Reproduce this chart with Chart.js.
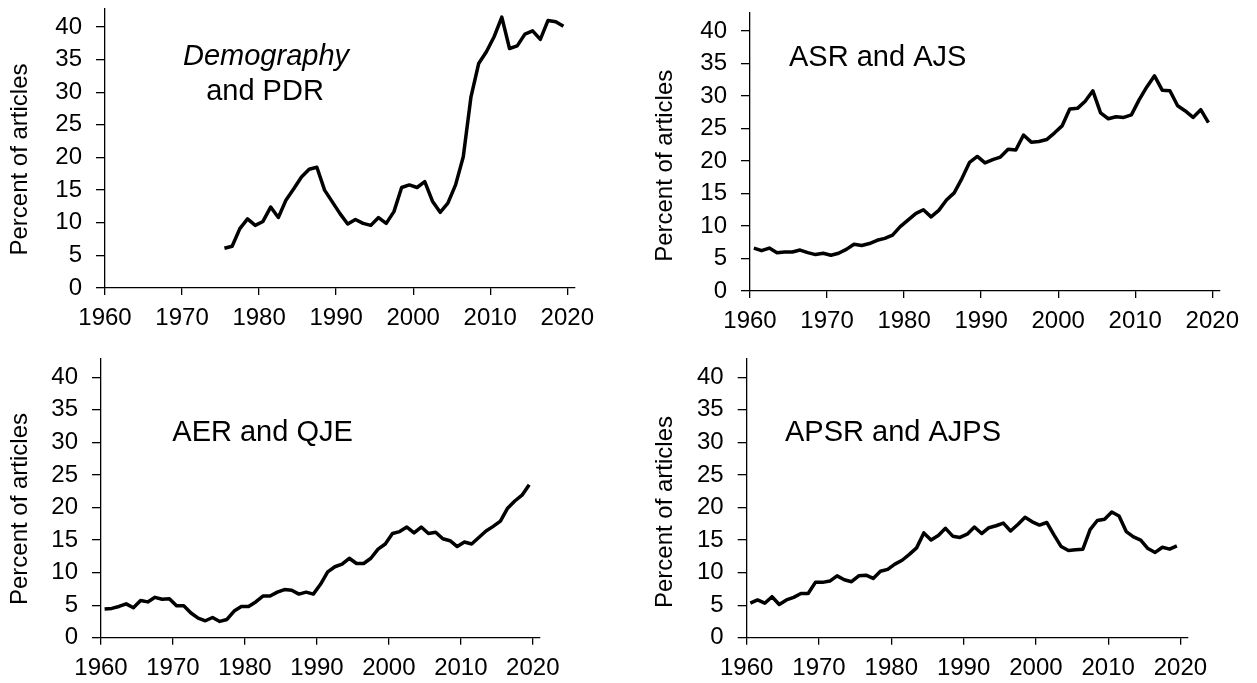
<!DOCTYPE html>
<html>
<head>
<meta charset="utf-8">
<script src="https://cdn.jsdelivr.net/npm/chart.js@4.4.1/dist/chart.umd.min.js"></script>
<style>
  body { margin: 0; background: #fff; width: 1257px; height: 683px; overflow: hidden; position: relative; }
  canvas { position: absolute; }
</style>
</head>
<body>
<canvas id="demChart" width="620" height="340" style="left:0px;top:0px"></canvas>
<canvas id="socChart" width="627" height="343" style="left:630px;top:0px"></canvas>
<canvas id="econChart" width="600" height="338" style="left:0px;top:345px"></canvas>
<canvas id="polChart" width="627" height="338" style="left:630px;top:345px"></canvas>
<script>
// Anos e séries (percentual de artigos)
const demYears = [];
for (let y = 1975; y <= 2019; y++) demYears.push(y);
const allYears = [];
for (let y = 1960; y <= 2019; y++) allYears.push(y);

const demPdr = [6.1, 6.4, 9.1, 10.6, 9.6, 10.2, 12.4, 10.8, 13.5, 15.2,
    17.0, 18.2, 18.5, 15.0, 13.2, 11.4, 9.8, 10.5, 9.9, 9.6,
    10.8, 9.9, 11.7, 15.4, 15.8, 15.4, 16.3, 13.3, 11.6, 13.0,
    15.8, 20.1, 29.3, 34.4, 36.2, 38.5, 41.5, 36.7, 37.1, 38.9,
    39.4, 38.1, 41.0, 40.8, 40.1];

const asrAjs = [6.6, 6.2, 6.6, 5.9, 6.0, 6.0, 6.3, 5.9, 5.6, 5.8,
    5.5, 5.8, 6.4, 7.2, 7.0, 7.3, 7.8, 8.1, 8.6, 9.9,
    10.9, 11.9, 12.5, 11.4, 12.4, 14.0, 15.1, 17.3, 19.8, 20.7,
    19.7, 20.2, 20.6, 21.8, 21.7, 24.0, 22.9, 23.0, 23.3, 24.3,
    25.4, 28.0, 28.1, 29.2, 30.8, 27.4, 26.5, 26.8, 26.7, 27.1,
    29.4, 31.4, 33.1, 30.9, 30.8, 28.5, 27.7, 26.7, 27.9, 25.9];

const aerQje = [4.4, 4.5, 4.8, 5.2, 4.6, 5.7, 5.5, 6.2, 5.9, 6.0,
    4.9, 4.9, 3.8, 3.0, 2.6, 3.1, 2.5, 2.8, 4.1, 4.8,
    4.8, 5.5, 6.4, 6.4, 7.0, 7.4, 7.3, 6.7, 7.0, 6.7,
    8.2, 10.1, 10.9, 11.3, 12.2, 11.4, 11.4, 12.2, 13.6, 14.4,
    16.0, 16.3, 17.0, 16.1, 17.0, 16.0, 16.2, 15.2, 14.9, 14.0,
    14.7, 14.4, 15.4, 16.4, 17.1, 17.9, 19.9, 21.0, 21.9, 23.5];

const apsrAjps = [5.3, 5.8, 5.3, 6.3, 5.1, 5.8, 6.2, 6.8, 6.8, 8.5,
    8.5, 8.7, 9.5, 8.9, 8.6, 9.5, 9.6, 9.1, 10.2, 10.5,
    11.3, 11.9, 12.8, 13.8, 16.1, 15.0, 15.7, 16.8, 15.6, 15.4,
    15.9, 17.0, 16.0, 16.9, 17.2, 17.6, 16.4, 17.4, 18.5, 17.8,
    17.3, 17.7, 15.8, 14.0, 13.4, 13.5, 13.6, 16.6, 18.0, 18.2,
    19.3, 18.7, 16.3, 15.5, 15.0, 13.7, 13.1, 13.9, 13.6, 14.1];

const xTicks = [1960, 1970, 1980, 1990, 2000, 2010, 2020];
const yTicks = [0, 5, 10, 15, 20, 25, 30, 35, 40];
const yTitle = 'Percent of articles';

// Textos dos painéis
const textPlugin = {
    id: 'panelText',
    afterDraw(chart, args, opts) {
        const ctx = chart.ctx;
        ctx.save();
        ctx.fillStyle = '#000';
        (opts.labels || []).forEach(l => {
            ctx.font = (l.italic ? 'italic ' : '') + '29px "Liberation Sans", Arial, sans-serif';
            ctx.textAlign = l.align || 'left';
            ctx.textBaseline = 'alphabetic';
            ctx.fillText(l.text, l.x, l.y);
        });
        if (opts.title) {
            ctx.font = '24px "Liberation Sans", Arial, sans-serif';
            ctx.translate(opts.title.x, opts.title.y);
            ctx.rotate(-Math.PI / 2);
            ctx.textAlign = 'center';
            ctx.textBaseline = 'middle';
            ctx.fillText(yTitle, 0, 0);
        }
        ctx.restore();
    }
};

function makePanel(canvasId, years, values, layout) {
    const ctx = document.getElementById(canvasId).getContext('2d');
    return new Chart(ctx, {
        type: 'line',
        data: {
            datasets: [{
                data: years.map((y, i) => ({ x: y + 0.5, y: values[i] })),
                borderColor: '#000',
                borderWidth: 3.5,
                pointRadius: 0,
                tension: 0,
                fill: false,
                borderJoinStyle: 'round'
            }]
        },
        options: {
            responsive: false,
            animation: false,
            devicePixelRatio: 1,
            layout: { padding: { left: 0, top: layout.top, right: layout.right, bottom: 0 } },
            plugins: {
                legend: { display: false },
                tooltip: { enabled: false },
                panelText: { labels: layout.labels, title: layout.title }
            },
            scales: {
                x: {
                    type: 'linear',
                    min: 1960,
                    max: 2021,
                    afterBuildTicks: s => { s.ticks = xTicks.map(v => ({ value: v })); },
                    afterFit: s => { s.height = layout.xHeight; s.paddingLeft = 0; s.paddingRight = 0; },
                    grid: { drawOnChartArea: false, drawTicks: true, tickLength: 7, color: '#000', lineWidth: 1.3 },
                    border: { color: '#000', width: 1.3 },
                    ticks: {
                        color: '#000', padding: 9, maxRotation: 0,
                        callback: v => String(v),
                        font: { family: '"Liberation Sans", Arial, sans-serif', size: 24 }
                    }
                },
                y: {
                    min: 0,
                    max: 42.8,
                    afterBuildTicks: s => { s.ticks = yTicks.map(v => ({ value: v })); },
                    afterFit: s => { s.width = layout.yWidth; s.paddingTop = 0; s.paddingBottom = 0; },
                    grid: { drawOnChartArea: false, drawTicks: true, tickLength: 9, color: '#000', lineWidth: 1.3 },
                    border: { color: '#000', width: 1.3 },
                    ticks: {
                        color: '#000', padding: 14,
                        callback: v => String(v),
                        font: { family: '"Liberation Sans", Arial, sans-serif', size: 24 }
                    }
                }
            }
        },
        plugins: [textPlugin]
    });
}

const demChart = makePanel('demChart', demYears, demPdr, {
    top: 8.7, right: 45, yWidth: 105, xHeight: 52,
    labels: [
        { text: 'Demography', x: 266, y: 65, italic: true, align: 'center' },
        { text: 'and PDR', x: 265, y: 100, align: 'center' }
    ],
    title: { x: 20.8, y: 159.5 }
});

const socChart = makePanel('socChart', allYears, asrAjs, {
    top: 12.8, right: 37, yWidth: 120, xHeight: 52,
    labels: [{ text: 'ASR and AJS', x: 159, y: 65.7 }],
    title: { x: 35, y: 165.8 }
});

const econChart = makePanel('econChart', allYears, aerQje, {
    top: 14.1, right: 60, yWidth: 101, xHeight: 45.3,
    labels: [{ text: 'AER and QJE', x: 172.3, y: 95.7 }],
    title: { x: 20.8, y: 164 }
});

const polChart = makePanel('polChart', allYears, apsrAjps, {
    top: 14.1, right: 69.3, yWidth: 116.7, xHeight: 45.3,
    labels: [{ text: 'APSR and AJPS', x: 155, y: 95.7 }],
    title: { x: 35, y: 167 }
});
</script>
</body>
</html>
